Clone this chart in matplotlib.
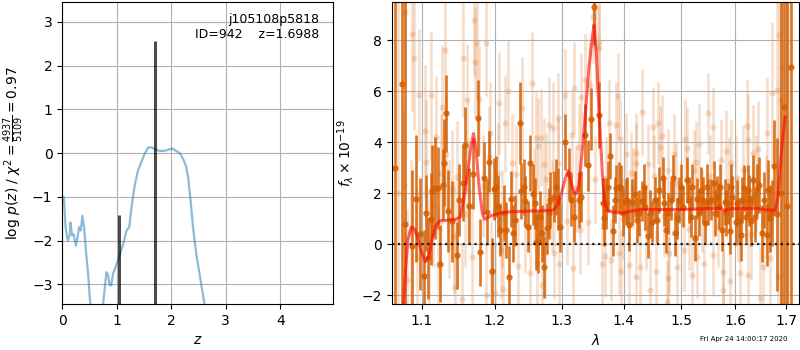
import matplotlib
matplotlib.use("Agg")
import matplotlib.pyplot as plt
import matplotlib.ticker as mticker

# ---- left panel: log p(z) ----
z_grid = [0.0, 0.03, 0.06, 0.10, 0.14, 0.15, 0.18, 0.21, 0.25, 0.27, 0.31, 0.34,
          0.37, 0.40, 0.44, 0.48, 0.50, 0.52, 0.55, 0.62, 0.70, 0.75, 0.81, 0.84,
          0.87, 0.90, 0.93, 1.00, 1.06, 1.12, 1.18, 1.23, 1.27, 1.33, 1.39, 1.45,
          1.51, 1.58, 1.64, 1.70, 1.79, 1.88, 1.97, 2.03, 2.09, 2.16, 2.22, 2.27,
          2.31, 2.35, 2.40, 2.46, 2.52, 2.57, 2.61, 2.66, 2.80, 3.2, 4.0, 5.0]
log_pz = [-1.01, -1.0, -1.69, -2.0, -1.85, -1.58, -1.88, -1.85, -2.11, -2.0, -1.69, -1.77,
          -1.43, -1.69, -2.3, -2.83, -3.21, -3.5, -4.2, -5.0, -4.4, -3.45, -2.72, -2.78,
          -3.02, -3.02, -2.76, -2.53, -2.30, -2.07, -1.77, -1.69, -1.24, -0.74, -0.40, -0.21,
          -0.02, 0.13, 0.13, 0.09, 0.05, 0.05, 0.09, 0.10, 0.05, 0.0, -0.14, -0.29,
          -0.55, -1.01, -1.69, -2.30, -2.76, -3.14, -3.44, -3.9, -5.0, -6.0, -7.0, -8.0]
peak_z = [1.045, 1.6988]
peak_val = [-1.42, 2.55]

# ---- right panel: spectrum (wavelength in microns, flux x 1e-19) ----
dark_wave = [1.0650, 1.0748, 1.0784, 1.0867, 1.1022, 1.1050, 1.1087, 1.1137, 1.1174, 1.1210,
             1.1242, 1.1283, 1.1325, 1.1352, 1.1476, 1.1503, 1.1586, 1.1696, 1.1764, 1.1792,
             1.1893, 1.1916, 1.1957, 1.1984, 1.2042, 1.2072, 1.2161, 1.2206, 1.2231, 1.2301,
             1.2365, 1.2390, 1.2450, 1.2489, 1.2519, 1.2569, 1.2608, 1.2638, 1.2668, 1.2727,
             1.2778, 1.2827, 1.2877, 1.2936, 1.3056, 1.3116, 1.3190, 1.3266, 1.3362, 1.3415,
             1.3464, 1.3510, 1.3588, 1.3651, 1.3668, 1.3705, 1.3769, 1.3819, 1.3879, 1.3922,
             1.3960, 1.4031, 1.4090, 1.4147, 1.4194, 1.4263, 1.4308, 1.4360, 1.4407, 1.4476,
             1.4533, 1.4609, 1.4666, 1.4723, 1.4765, 1.4810, 1.4856, 1.4914, 1.4955, 1.5031,
             1.5093, 1.5167, 1.5241, 1.5291, 1.5352, 1.5433, 1.5494, 1.5544, 1.5592, 1.5648,
             1.5692, 1.5740, 1.5803, 1.5851, 1.5895, 1.5944, 1.6008, 1.6067, 1.6106, 1.6165,
             1.6236, 1.6303, 1.6414, 1.6461, 1.6512, 1.6611, 1.6678, 1.6762, 1.6808, 1.6900,
             1.6959, 1.7024, 1.7091,
             1.0925, 1.0980, 1.1120, 1.1300, 1.1410, 1.1550, 1.1640, 1.1850,
             1.2017, 1.2132, 1.2266, 1.2430, 1.2589, 1.2698, 1.2812, 1.2911, 1.2977, 1.3148,
             1.3309, 1.3733, 1.3850, 1.3992, 1.4061, 1.4221, 1.4337, 1.4446, 1.4567, 1.4695,
             1.4886, 1.4995, 1.5137, 1.5198, 1.5322, 1.5396, 1.5463, 1.5618, 1.5716, 1.5827,
             1.5925, 1.6039, 1.6132, 1.6197, 1.6270, 1.6349, 1.6382, 1.6552, 1.6644, 1.6723]
dark_flux = [3.00, 6.29, 0.80, -0.07, -1.24, 1.24, -0.55, 2.10, 2.20, 2.22,
             -0.75, 2.35, 5.14, 1.31, -0.43, 1.74, 3.88, 2.78, 4.95, -0.31,
             1.27, 3.25, -1.05, 2.17, 1.50, 0.56, 0.56, -1.27, 1.79, 0.95,
             4.75, 2.10, 1.70, 0.69, 3.18, 1.97, 0.10, 0.10, 1.08, -0.88,
             0.63, 1.74, 1.87, 1.78, 4.00, 2.78, 1.08, 1.74, 4.29, 3.11,
             4.92, 9.30, 5.07, 1.61, 1.02, 1.61, 3.46, 0.54, 2.20, 2.24,
             2.20, 1.67, 0.76, 1.67, 1.97, 1.22, 1.70, 1.45, 0.35, 0.89,
             1.74, 2.13, 2.61, 0.56, 1.22, 1.74, 2.61, 1.02, 1.74, 1.48,
             2.52, 1.08, 0.24, 1.80, 2.13, 0.85, 1.67, 1.76, 2.39, 1.87,
             1.50, 0.56, 1.67, 1.61, 0.52, 1.87, 0.89, 0.93, 0.37, 2.20,
             2.13, 0.92, 2.16, 2.33, 0.43, 0.37, 1.02, 3.08, 1.19, 2.00,
             5.37, 1.52, 6.94,
             1.80, 0.40, 1.00, 3.20, 0.90, 2.40, 1.50, 2.60,
             2.26, 1.22, 0.43, 2.26, 1.61, 0.43, 1.22, 2.26, 0.69, 1.74,
             1.87, 2.26, 1.74, 1.22, 1.74, 0.95, 2.26, 1.22, 0.95, 1.61,
             0.43, 2.26, 1.74, 2.26, 1.22, 1.74, 2.26, 1.22, 2.26, 1.22,
             2.26, 1.61, 1.74, 1.08, 1.74, 2.52, 1.08, 1.74, 2.13, 1.22]
dark_err = [12.0, 12.0, 12.0, 3.0, 1.8, 1.5, 1.6, 1.8, 2.0, 1.6,
            1.5, 1.4, 1.5, 1.6, 1.3, 1.4, 1.5, 1.4, 1.5, 1.3,
            1.3, 1.2, 1.3, 1.2, 1.2, 1.0, 1.1, 1.2, 1.1, 1.0,
            1.6, 1.1, 1.0, 1.0, 1.1, 1.2, 1.1, 1.2, 1.0, 1.2,
            1.0, 1.1, 1.0, 1.2, 1.1, 1.0, 1.0, 1.1, 1.2, 1.0,
            1.2, 1.5, 1.3, 1.0, 1.1, 1.0, 0.9, 1.0, 0.9, 1.0,
            0.9, 0.9, 1.0, 0.9, 0.9, 0.9, 0.8, 0.9, 0.9, 0.8,
            0.9, 0.9, 0.8, 0.9, 0.8, 0.8, 0.9, 0.8, 0.9, 0.8,
            0.9, 0.8, 0.9, 0.8, 0.9, 0.8, 0.9, 0.8, 0.9, 0.8,
            0.9, 0.8, 0.9, 0.8, 0.9, 0.8, 0.9, 0.9, 1.0, 0.9,
            1.0, 1.0, 1.0, 1.1, 1.1, 1.2, 1.3, 1.8, 3.0, 12.0,
            12.0, 12.0, 12.0,
            2.5, 2.2, 1.8, 1.7, 1.6, 1.5, 1.5, 1.4,
            1.2, 1.1, 1.1, 1.1, 1.0, 1.1, 1.0, 1.1, 1.0, 1.0,
            1.0, 1.0, 0.9, 0.9, 0.9, 0.9, 0.9, 0.9, 0.9, 0.9,
            0.9, 0.9, 0.9, 0.9, 0.9, 0.9, 0.9, 0.9, 0.9, 0.9,
            0.9, 0.9, 0.9, 1.0, 1.0, 1.0, 1.0, 1.1, 1.2, 1.3]

light_wave = [1.0690, 1.0771, 1.0784, 1.0807, 1.0853, 1.0871, 1.0899, 1.0935, 1.0967, 1.1036,
              1.1059, 1.1096, 1.1119, 1.1187, 1.1219, 1.1274, 1.1311, 1.1320, 1.1366, 1.1403,
              1.1448, 1.1471, 1.1545, 1.1554, 1.1613, 1.1622, 1.1673, 1.1709, 1.1718, 1.1750,
              1.1782, 1.1874, 1.1879, 1.1924, 1.1934, 1.1948, 1.2006, 1.2042, 1.2067, 1.2092,
              1.2117, 1.2142, 1.2191, 1.2315, 1.2340, 1.2400, 1.2514, 1.2554, 1.2613, 1.2620,
              1.2638, 1.2688, 1.2703, 1.2728, 1.2738, 1.2763, 1.2802, 1.2867, 1.2877, 1.2936,
              1.2951, 1.2961, 1.3046, 1.3169, 1.3180, 1.3191, 1.3277, 1.3288, 1.3304, 1.3368,
              1.3422, 1.3449, 1.3503, 1.3530, 1.3540, 1.3588, 1.3594, 1.3636, 1.3690, 1.3760,
              1.3797, 1.3866, 1.3910, 1.3915, 1.3937, 1.3948, 1.4031, 1.4090, 1.4118, 1.4204,
              1.4210, 1.4216, 1.4277, 1.4308, 1.4407, 1.4453, 1.4493, 1.4550, 1.4592, 1.4626,
              1.4654, 1.4748, 1.4765, 1.4770, 1.4782, 1.4869, 1.4926, 1.5056, 1.5074, 1.5093,
              1.5185, 1.5266, 1.5291, 1.5322, 1.5402, 1.5481, 1.5574, 1.5587, 1.5729, 1.5759,
              1.5772, 1.5821, 1.5895, 1.5925, 1.6008, 1.6087, 1.6217, 1.6236, 1.6240, 1.6349,
              1.6433, 1.6480, 1.6545, 1.6611, 1.6678, 1.6723, 1.6816, 1.6841, 1.6855, 1.6895,
              1.6927, 1.7035,
              1.1150, 1.1250, 1.1430, 1.1580, 1.1830, 1.2100, 1.2250, 1.2450, 1.2580, 1.2850,
              1.3080, 1.3230, 1.3700, 1.3990, 1.4150, 1.4380, 1.4520, 1.4700, 1.4900, 1.5130,
              1.5230, 1.5380, 1.5520, 1.5670, 1.5870, 1.6050, 1.6150, 1.6300, 1.6400, 1.6600]
light_flux = [2.00, 2.35, 9.10, -1.40, 0.50, 8.24, 7.29, -0.48, 5.86, 4.44,
              3.22, -0.20, 5.86, 4.22, -0.80, 5.40, 7.62, 3.54, 1.00, 2.17,
              -1.66, 2.65, -2.14, 7.29, 5.66, 2.08, -0.48, 8.80, 7.14, 7.91,
              5.69, 7.91, -1.99, 3.44, 4.35, -1.07, -1.90, 2.78, 5.53, -0.22,
              -1.76, 4.75, 6.01, 2.78, -0.85, 5.33, -1.11, 6.31, 4.16, -0.71,
              3.86, 4.18, -1.59, 3.14, -0.35, 2.56, 4.68, 4.58, -0.35, 3.14,
              4.94, -0.78, 5.86, 4.29, -0.94, 6.14, 3.83, 0.56, 5.79, 6.44,
              0.89, 6.25, 8.93, 2.56, 7.75, 7.95, 7.69, -0.77, -0.46, 4.77,
              -0.61, 4.68, 5.82, -0.35, 4.12, -1.03, 3.54, -0.81, 2.81, -1.27,
              3.18, 3.57, -0.88, 5.18, 3.14, -1.79, 4.59, -1.03, 4.75, 3.83,
              4.25, -2.26, 2.92, -1.31, -0.35, 3.53, -0.88, -0.22, 4.12, 3.80,
              -1.20, 3.22, -0.48, 3.92, -0.75, 5.14, 4.59, -0.42, 3.33, -1.79,
              -1.07, 3.67, -1.44, 3.20, 2.59, -1.11, 4.64, 4.09, -1.20, 3.57,
              3.73, -2.09, -0.88, 4.35, -0.55, 5.92, 6.05, -1.27, 8.21, 5.66,
              6.90, 6.90,
              1.50, 2.80, 0.30, 1.20, 2.30, 1.00, 3.20, 0.80, 2.00, 1.50,
              0.90, 2.20, 2.60, 1.00, 2.20, 0.60, 2.70, 1.10, 2.40, 0.60,
              2.90, 1.30, 2.70, 0.70, 2.50, 1.00, 2.90, 0.40, 2.40, 1.50]
light_err = [12.0, 3.0, 3.0, 2.8, 2.8, 3.0, 2.8, 2.6, 2.6, 2.6,
             2.5, 2.4, 2.5, 2.4, 2.3, 2.4, 2.5, 2.3, 2.3, 2.3,
             2.2, 2.2, 2.2, 2.3, 2.2, 2.1, 2.1, 2.2, 2.2, 2.2,
             2.1, 2.1, 2.0, 2.0, 2.0, 2.0, 2.0, 2.0, 2.0, 1.9,
             1.9, 1.9, 2.0, 1.9, 1.9, 2.0, 1.9, 2.0, 1.9, 1.9,
             1.9, 1.9, 1.8, 1.8, 1.8, 1.8, 1.9, 1.8, 1.8, 1.8,
             1.8, 1.8, 1.8, 1.7, 1.7, 1.8, 1.7, 1.7, 1.7, 1.8,
             1.7, 1.7, 1.8, 1.7, 1.7, 1.7, 1.7, 1.6, 1.6, 1.7,
             1.6, 1.7, 1.7, 1.6, 1.6, 1.6, 1.6, 1.6, 1.6, 1.6,
             1.6, 1.6, 1.6, 1.7, 1.6, 1.6, 1.6, 1.6, 1.6, 1.6,
             1.6, 1.6, 1.6, 1.6, 1.6, 1.6, 1.6, 1.6, 1.6, 1.6,
             1.6, 1.6, 1.6, 1.6, 1.6, 1.6, 1.6, 1.6, 1.6, 1.6,
             1.6, 1.6, 1.7, 1.7, 1.7, 1.7, 1.8, 1.8, 1.8, 1.9,
             1.9, 2.0, 2.0, 2.2, 2.4, 2.8, 4.0, 4.0, 6.0, 12.0,
             12.0, 12.0,
             2.4, 2.3, 2.2, 2.1, 2.0, 1.9, 1.9, 1.9, 1.8, 1.8,
             1.7, 1.7, 1.6, 1.6, 1.6, 1.6, 1.6, 1.6, 1.6, 1.6,
             1.6, 1.6, 1.6, 1.6, 1.7, 1.7, 1.8, 1.8, 1.9, 2.0]

model_wave = [1.0757, 1.0784, 1.0816, 1.0863, 1.0908, 1.0953, 1.1000, 1.1045, 1.1091, 1.1137,
              1.1183, 1.1242, 1.1343, 1.1458, 1.1517, 1.1563, 1.1618, 1.1664, 1.1701, 1.1737,
              1.1778, 1.1824, 1.1856, 1.1915, 1.1984, 1.2131, 1.2331, 1.2529, 1.2727, 1.2877,
              1.2943, 1.3003, 1.3056, 1.3100, 1.3137, 1.3190, 1.3233, 1.3270, 1.3325, 1.3378,
              1.3432, 1.3486, 1.3512, 1.3551, 1.3593, 1.3648, 1.3685, 1.3738, 1.3836, 1.3971,
              1.4083, 1.4285, 1.4574, 1.4977, 1.5407, 1.5716, 1.5809, 1.5870, 1.6158, 1.6422,
              1.6619, 1.6782, 1.6836, 1.6881, 1.6927, 1.6980]
model_flux = [-2.6, -1.14, 0.17, 0.69, 0.59, 0.17, -0.35, -0.68, -0.48, 0.24,
              0.72, 0.93, 0.95, 0.99, 1.08, 1.74, 2.78, 3.83, 4.35, 3.70,
              2.26, 1.22, 0.99, 1.08, 1.16, 1.26, 1.29, 1.31, 1.32, 1.35,
              1.58, 2.07, 2.59, 2.89, 2.52, 2.07, 2.00, 2.33, 3.70, 5.27,
              6.97, 8.14, 8.60, 7.49, 5.27, 2.78, 1.61, 1.32, 1.27, 1.22,
              1.29, 1.37, 1.37, 1.37, 1.40, 1.42, 1.32, 1.40, 1.41, 1.41,
              1.35, 1.35, 1.87, 3.05, 4.09, 5.00]

wave_ticks = [1.1, 1.2, 1.3, 1.4, 1.5, 1.6, 1.7]
grism_color = (0.835, 0.369, 0.0)

fig = plt.figure(figsize=(8, 3.5), dpi=100)

# left: redshift probability
ax1 = fig.add_axes([0.0778, 0.131, 0.3385, 0.863])
ax1.plot(z_grid, log_pz, color='C0', alpha=0.5, lw=1.6)
ax1.vlines(peak_z, -3.45, peak_val, color='k', alpha=0.7, lw=2.2)
ax1.set_xlim(0, 4.97)
ax1.set_ylim(-3.45, 3.45)
ax1.set_xticks([0, 1, 2, 3, 4])
ax1.set_yticks([-3, -2, -1, 0, 1, 2, 3])
ax1.grid()
ax1.set_xlabel('$z$')
ax1.set_ylabel(r'log $p(z)$ / $\chi^2=\frac{4937}{5109}=0.97$')
ax1.text(0.95, 0.965, 'j105108p5818\nID=942    z=1.6988', ha='right', va='top',
         transform=ax1.transAxes, fontsize=9)

# right: spectrum
ax2 = fig.add_axes([0.4896, 0.131, 0.5095, 0.863])
ax2.errorbar(light_wave, light_flux, yerr=light_err, fmt='o', color=grism_color,
             alpha=0.2, ms=4.5, elinewidth=1.9, mew=0, zorder=1)
ax2.errorbar(dark_wave, dark_flux, yerr=dark_err, fmt='o', color=grism_color,
             alpha=0.85, ms=4.5, elinewidth=1.9, mew=0, zorder=2)
ax2.plot(model_wave, model_flux, color='r', alpha=0.6, lw=2.2, zorder=3)
ax2.axhline(0, color='k', ls=':', lw=1.6, alpha=0.85, zorder=4)
ax2.set_xscale('log')
ax2.set_xlim(1.061, 1.727)
ax2.set_ylim(-2.34, 9.5)
ax2.xaxis.set_major_locator(mticker.FixedLocator(wave_ticks))
ax2.xaxis.set_major_formatter(mticker.FixedFormatter([str(w) for w in wave_ticks]))
ax2.xaxis.set_minor_locator(mticker.NullLocator())
ax2.set_yticks([-2, 0, 2, 4, 6, 8])
ax2.grid()
ax2.set_xlabel(r'$\lambda$')
ax2.set_ylabel(r'$f_\lambda\times10^{-19}$')

fig.text(0.985, 0.022, 'Fri Apr 24 14:00:17 2020', ha='right', va='bottom', fontsize=5)

fig.savefig('out.png', dpi=100)
